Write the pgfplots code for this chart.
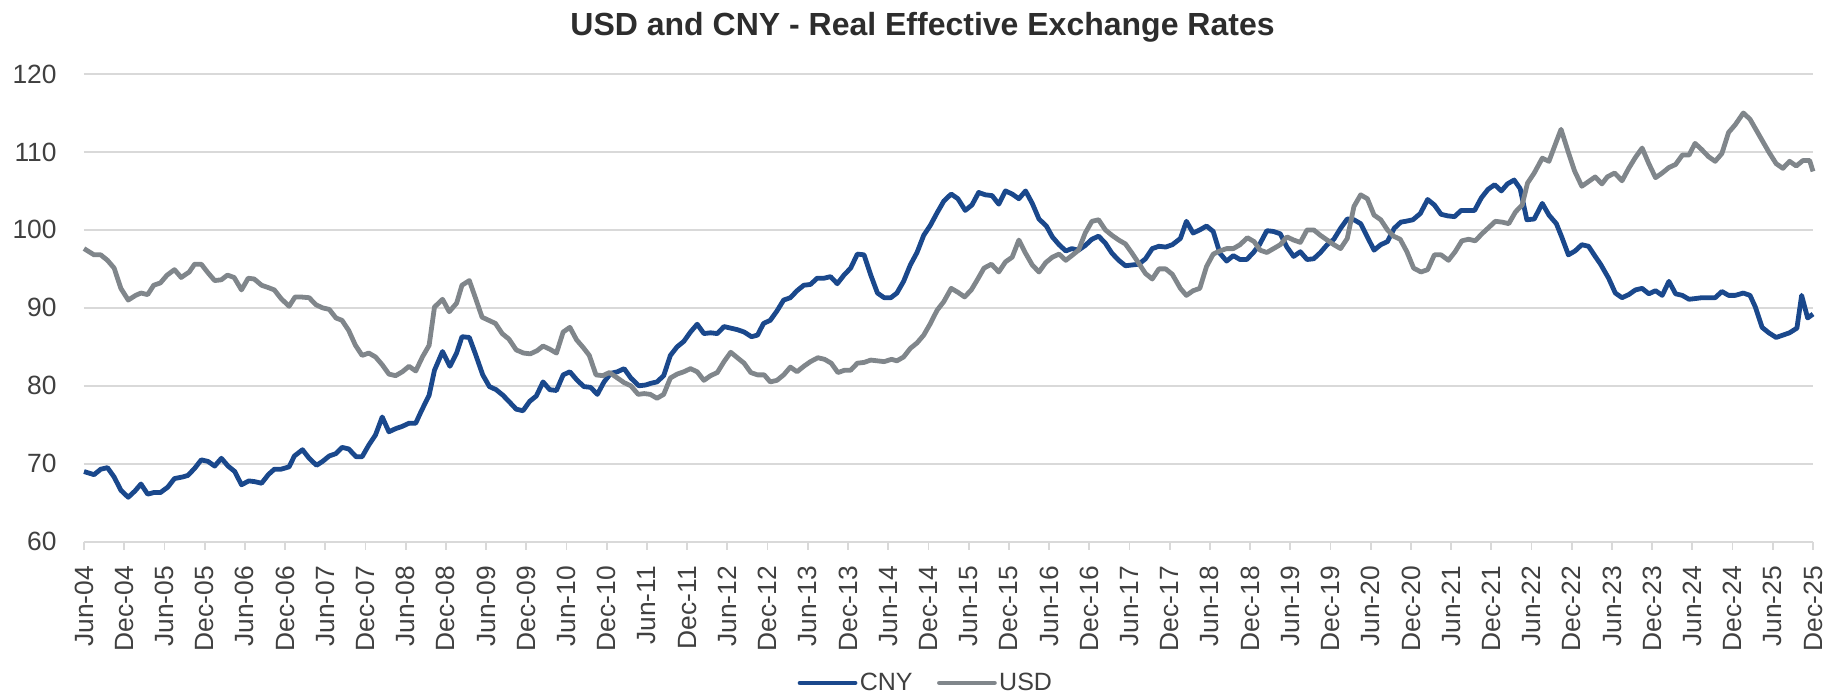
\documentclass[border=0pt]{standalone}
\usepackage{pgfplots}
\usepackage{pgfplotstable}
\usepackage{fontspec}
\setmainfont{Liberation Sans}
\pgfplotsset{compat=1.18}
\definecolor{cnyblue}{RGB}{26,72,140}
\definecolor{usdgray}{RGB}{128,134,139}
\definecolor{gridgray}{RGB}{217,217,217}
\definecolor{txtgray}{RGB}{64,64,64}
\definecolor{titlegray}{RGB}{45,45,45}

\pgfplotstableread{
m v
0 69.0
1.5 68.6
2.5 69.3
3.5 69.5
4.5 68.3
5.5 66.6
6.6 65.7
7.6 66.5
8.5 67.4
9.5 66.1
10.4 66.3
11.4 66.3
12.5 67.0
13.5 68.1
14.7 68.3
15.5 68.5
16.5 69.4
17.5 70.5
18.5 70.3
19.5 69.7
20.5 70.7
21.5 69.7
22.5 69.0
23.5 67.3
24.6 67.8
25.5 67.7
26.5 67.5
27.5 68.6
28.4 69.3
29.4 69.3
30.6 69.6
31.4 71.0
32.6 71.8
33.6 70.7
34.7 69.8
35.6 70.3
36.6 71.0
37.6 71.3
38.5 72.1
39.5 71.9
40.6 70.9
41.5 70.9
42.5 72.4
43.5 73.7
44.5 76.0
45.5 74.1
46.5 74.5
47.5 74.8
48.5 75.2
49.5 75.2
50.3 76.7
51.5 78.8
52.3 82.0
53.5 84.4
54.6 82.5
55.6 84.2
56.4 86.3
57.5 86.2
58.4 84.1
59.5 81.4
60.5 79.9
61.5 79.5
62.5 78.8
63.4 78.0
64.5 77.0
65.5 76.8
66.5 78.0
67.5 78.7
68.5 80.5
69.5 79.5
70.5 79.4
71.5 81.4
72.5 81.8
73.6 80.7
74.6 79.9
75.6 79.8
76.6 78.9
77.6 80.5
78.6 81.6
79.6 81.8
80.6 82.2
81.6 81.0
82.8 80.0
83.8 80.1
84.5 80.3
85.5 80.5
86.5 81.3
87.5 83.9
88.5 85.0
89.5 85.7
90.5 86.9
91.5 87.9
92.5 86.7
93.5 86.8
94.5 86.7
95.5 87.6
96.5 87.4
97.5 87.2
98.5 86.9
99.6 86.3
100.5 86.5
101.4 88.0
102.4 88.4
103.4 89.6
104.4 91.0
105.4 91.3
106.4 92.2
107.4 92.9
108.4 93.0
109.4 93.8
110.4 93.8
111.4 94.0
112.4 93.1
113.4 94.2
114.4 95.1
115.4 96.9
116.4 96.8
117.4 94.2
118.4 91.9
119.4 91.3
120.4 91.3
121.3 91.9
122.3 93.4
123.3 95.5
124.3 97.1
125.3 99.3
126.3 100.6
127.3 102.2
128.3 103.7
129.4 104.6
130.4 104.0
131.5 102.5
132.5 103.2
133.5 104.8
134.5 104.5
135.5 104.4
136.5 103.3
137.5 105.0
138.5 104.6
139.5 104.0
140.5 105.0
141.5 103.4
142.5 101.4
143.6 100.5
144.5 99.1
145.5 98.1
146.5 97.3
147.4 97.6
148.4 97.4
149.4 98.0
150.4 98.8
151.4 99.2
152.4 98.3
153.4 97.0
154.4 96.1
155.4 95.4
156.4 95.5
157.4 95.6
158.4 96.3
159.4 97.6
160.4 97.9
161.4 97.8
162.4 98.1
163.6 98.9
164.5 101.1
165.5 99.6
166.5 100.0
167.5 100.5
168.5 99.8
169.5 97.0
170.5 96.0
171.5 96.7
172.5 96.2
173.5 96.2
174.5 97.1
175.4 98.1
176.5 99.9
177.5 99.8
178.5 99.5
179.5 97.8
180.5 96.6
181.5 97.2
182.5 96.2
183.5 96.3
184.5 97.1
185.5 98.1
186.5 98.8
187.5 100.2
188.5 101.4
189.5 101.3
190.5 100.8
191.5 99.1
192.5 97.4
193.5 98.1
194.5 98.5
195.5 100.2
196.5 101.0
197.2 101.1
198.3 101.3
199.4 102.1
200.5 103.9
201.5 103.2
202.5 102.0
203.5 101.8
204.5 101.7
205.5 102.5
206.5 102.5
207.5 102.5
208.5 104.1
209.5 105.2
210.5 105.8
211.5 105.0
212.4 105.9
213.4 106.4
214.3 105.3
215.3 101.3
216.4 101.4
217.6 103.4
218.6 101.9
219.7 100.8
220.5 99.1
221.5 96.8
222.5 97.3
223.5 98.1
224.5 97.9
225.5 96.6
226.3 95.6
227.5 93.8
228.5 91.9
229.5 91.3
230.5 91.7
231.5 92.3
232.5 92.5
233.5 91.8
234.5 92.2
235.5 91.6
236.5 93.4
237.5 91.8
238.5 91.6
239.5 91.1
240.5 91.2
241.4 91.3
242.4 91.3
243.4 91.3
244.4 92.1
245.4 91.6
246.4 91.6
247.6 91.9
248.6 91.6
249.4 90.1
250.4 87.5
251.4 86.8
252.5 86.2
253.5 86.5
254.5 86.8
255.6 87.4
256.3 91.6
257.2 88.7
258 89.2
}\cny

\pgfplotstableread{
m v
0 97.6
1.5 96.8
2.5 96.8
3.5 96.1
4.5 95.1
5.5 92.5
6.6 91.0
7.7 91.6
8.5 91.9
9.5 91.7
10.4 92.9
11.4 93.2
12.4 94.2
13.5 94.9
14.5 93.9
15.7 94.6
16.5 95.6
17.5 95.6
18.5 94.5
19.5 93.5
20.5 93.6
21.4 94.2
22.4 93.9
23.5 92.3
24.5 93.8
25.4 93.7
26.5 92.9
27.5 92.6
28.4 92.3
29.4 91.2
30.6 90.2
31.5 91.4
32.3 91.4
33.6 91.3
34.6 90.4
35.6 90.0
36.6 89.8
37.6 88.7
38.5 88.4
39.5 87.1
40.5 85.2
41.5 83.9
42.5 84.2
43.5 83.7
44.5 82.7
45.5 81.5
46.5 81.3
47.5 81.8
48.5 82.5
49.5 81.9
50.5 83.7
51.5 85.2
52.3 90.1
53.5 91.1
54.5 89.5
55.6 90.6
56.4 92.9
57.5 93.5
58.4 91.3
59.4 88.8
60.4 88.4
61.4 88.0
62.4 86.7
63.4 86.0
64.5 84.6
65.6 84.2
66.6 84.1
67.6 84.5
68.5 85.1
69.5 84.7
70.5 84.2
71.5 86.9
72.5 87.5
73.5 85.9
74.5 84.9
75.4 83.9
76.4 81.4
77.4 81.3
78.4 81.7
79.6 81.0
80.6 80.4
81.6 80.0
82.7 78.9
83.6 79.0
84.5 78.9
85.5 78.4
86.5 78.9
87.5 81.0
88.5 81.5
89.5 81.8
90.5 82.2
91.5 81.8
92.5 80.7
93.5 81.3
94.5 81.7
95.5 83.1
96.5 84.3
97.5 83.6
98.5 82.9
99.5 81.7
100.5 81.4
101.5 81.4
102.4 80.5
103.4 80.7
104.4 81.4
105.4 82.4
106.4 81.8
107.4 82.5
108.4 83.1
109.5 83.6
110.5 83.4
111.5 82.9
112.5 81.7
113.5 82.0
114.4 82.0
115.4 82.9
116.4 83.0
117.4 83.3
118.4 83.2
119.4 83.1
120.5 83.4
121.3 83.2
122.3 83.7
123.3 84.8
124.3 85.5
125.3 86.5
126.3 88.0
127.3 89.7
128.3 90.8
129.4 92.5
130.4 92.0
131.4 91.4
132.4 92.3
133.3 93.6
134.3 95.1
135.4 95.6
136.5 94.6
137.5 95.9
138.5 96.5
139.5 98.7
140.5 97.0
141.5 95.5
142.5 94.6
143.5 95.8
144.5 96.5
145.5 96.9
146.5 96.1
147.4 96.7
148.4 97.4
149.4 99.6
150.4 101.1
151.4 101.3
152.4 100.0
153.4 99.3
154.4 98.7
155.4 98.2
156.4 97.0
157.4 95.7
158.4 94.4
159.4 93.7
160.4 95.0
161.4 95.0
162.4 94.3
163.6 92.5
164.5 91.6
165.5 92.2
166.5 92.5
167.5 95.3
168.5 96.9
169.5 97.3
170.5 97.6
171.5 97.6
172.5 98.1
173.6 99.0
174.6 98.5
175.5 97.4
176.5 97.1
177.5 97.6
178.5 98.1
179.5 99.1
180.5 98.7
181.5 98.4
182.5 100.0
183.5 100.0
184.5 99.3
185.5 98.7
186.5 98.1
187.5 97.6
188.5 98.9
189.5 103.0
190.5 104.5
191.5 104.0
192.5 101.9
193.5 101.3
194.5 100.0
195.4 99.2
196.4 98.8
197.4 97.2
198.4 95.1
199.5 94.6
200.5 94.9
201.5 96.8
202.5 96.8
203.6 96.1
204.6 97.2
205.6 98.6
206.6 98.8
207.6 98.6
208.6 99.5
209.6 100.3
210.6 101.1
211.6 101.0
212.6 100.8
213.6 102.3
214.6 103.2
215.4 106.0
216.4 107.3
217.6 109.2
218.6 108.8
219.6 111.1
220.4 112.9
221.4 110.2
222.4 107.6
223.5 105.6
224.5 106.2
225.5 106.8
226.5 105.9
227.3 106.8
228.4 107.3
229.5 106.3
230.5 107.9
231.5 109.3
232.5 110.5
233.5 108.5
234.5 106.7
235.5 107.3
236.5 108.0
237.5 108.4
238.5 109.6
239.5 109.6
240.4 111.1
241.4 110.3
242.4 109.4
243.4 108.8
244.4 109.8
245.4 112.5
246.4 113.5
247.6 115.0
248.6 114.2
249.4 113.0
250.4 111.5
251.4 110.0
252.5 108.5
253.5 107.9
254.5 108.8
255.5 108.2
256.5 108.9
257.5 108.9
258 107.5
}\usd

\begin{document}
\begin{tikzpicture}
\begin{axis}[
  scale only axis,
  width=864.5pt, height=233.85pt,
  xmin=0, xmax=258, ymin=60, ymax=120,
  clip=false,
  axis x line*=bottom, axis y line*=left,
  y axis line style={draw=none},
  x axis line style={draw=gridgray, line width=0.9pt},
  ytick={60,70,...,120},
  ytick style={draw=none},
  xtick={0,6,...,258},
  xticklabels={Jun-04,Dec-04,Jun-05,Dec-05,Jun-06,Dec-06,Jun-07,Dec-07,Jun-08,Dec-08,Jun-09,Dec-09,Jun-10,Dec-10,Jun-11,Dec-11,Jun-12,Dec-12,Jun-13,Dec-13,Jun-14,Dec-14,Jun-15,Dec-15,Jun-16,Dec-16,Jun-17,Dec-17,Jun-18,Dec-18,Jun-19,Dec-19,Jun-20,Dec-20,Jun-21,Dec-21,Jun-22,Dec-22,Jun-23,Dec-23,Jun-24,Dec-24,Jun-25,Dec-25},
  xtick style={draw=gridgray, line width=0.9pt},
  tick align=outside,
  major tick length=4pt,
  ymajorgrids,
  grid style={draw=gridgray, line width=0.9pt},
  /pgf/number format/assume math mode=true,
  tick label style={font=\fontsize{13.2}{15}\selectfont, text=txtgray},
  xticklabel style={yshift=-8pt, rotate=90, anchor=east, inner sep=0pt},
  yticklabel style={anchor=east, inner sep=0pt, xshift=-9.5pt},
  legend style={at={(rel axis cs:0.487,-0.302)}, anchor=center, draw=none,
    fill=none, font=\fontsize{12.5}{14}\selectfont, text=txtgray,
    nodes={inner sep=1.2pt}, cells={anchor=west}},
  legend columns=2,
  legend image code/.code={\draw[#1, line cap=round] (0pt,0pt) -- (27.5pt,0pt);},
]
\coordinate (sw) at (rel axis cs:0,0);
\addplot[cnyblue, line width=2.4pt, line join=round] table[x=m,y=v]{\cny};
\addlegendentry{CNY\hspace*{11pt}}
\addplot[usdgray, line width=2.4pt, line join=round] table[x=m,y=v]{\usd};
\addlegendentry{USD}
\node[anchor=base, font=\bfseries\fontsize{16}{18}\selectfont, text=titlegray]
  at (rel axis cs:0.485,1) [yshift=19.5pt] {USD and CNY - Real Effective Exchange Rates};
\end{axis}
\pgfresetboundingbox
\path (sw) ++(-42pt,-76.65pt) rectangle ++(915.5pt,347.5pt);
\end{tikzpicture}
\end{document}
